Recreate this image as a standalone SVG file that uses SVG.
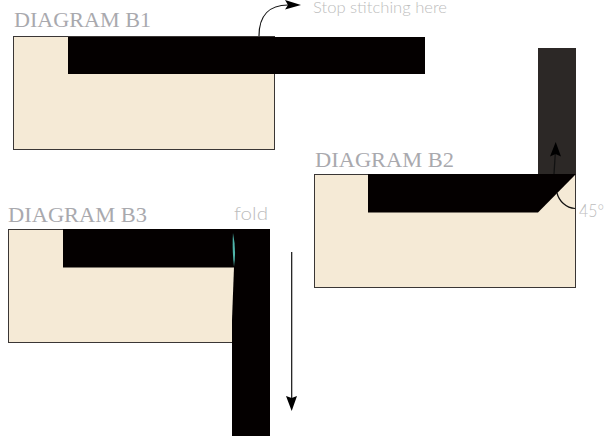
<svg xmlns="http://www.w3.org/2000/svg" width="614" height="436" viewBox="0 0 614 436">
<style>
.fabric{fill:#f5ead6;stroke:#3a3635;stroke-width:1}
.band{fill:#040000}
.title{font-family:"Liberation Serif",serif;font-size:22px;fill:#a9a9ae}
.note{font-family:"Lato","Liberation Sans",sans-serif;font-weight:300;fill:#bdbdbd}
.line{fill:none;stroke:#111;stroke-width:1.2}
.head{fill:#000}
</style>
<rect width="614" height="436" fill="#fff"/>
<g id="diagram-b1">
<rect class="fabric" x="13.500" y="36.500" width="261" height="113"/>
<rect class="band" x="68" y="37" width="357" height="37"/>
<text class="title" x="14" y="27" textLength="137" lengthAdjust="spacingAndGlyphs">DIAGRAM B1</text>
</g>
<g id="diagram-b2">
<rect x="538" y="48" width="38" height="127" fill="#2c2826"/>
<rect class="fabric" x="314.500" y="174.500" width="261" height="113"/>
<path class="band" d="M368 174H576L538 212.500H368Z"/>
<text class="title" x="315" y="167" textLength="139" lengthAdjust="spacingAndGlyphs">DIAGRAM B2</text>
<text class="note" x="579" y="217" font-size="17" textLength="25" lengthAdjust="spacingAndGlyphs">45°</text>
</g>
<g id="diagram-b3">
<rect class="fabric" x="8.500" y="229.500" width="261" height="113"/>
<rect class="band" x="63" y="229" width="207" height="38.500"/>
<path class="band" d="M234 267H270V436H232V320Z"/>
<path d="M233 233Q236.500 250 234 266.500Q232 250 233 233Z" fill="#4fb3a9"/>
<text class="title" x="8" y="222" textLength="139" lengthAdjust="spacingAndGlyphs">DIAGRAM B3</text>
<text class="note" x="234" y="220" font-size="18" textLength="34" lengthAdjust="spacingAndGlyphs">fold</text>
</g>
<g id="stop-note">
<text class="note" x="313" y="13" font-size="16" textLength="134" lengthAdjust="spacingAndGlyphs">Stop stitching here</text>
</g>
<g id="connectors">
<path class="line" d="M259 36C259 15 270 5 288 5"/>
<path class="head" d="M285 0L301 5L285 9.500L288 5Z"/>
<path class="line" d="M554 174L555.500 150"/>
<path class="head" d="M555.700 142L561 156.500L555.500 154L550 156.500Z"/>
<path class="line" d="M557 193C559 201 566 208 575 208.500"/>
<path class="line" d="M291.700 252V398"/>
<path class="head" d="M286 396L291.700 398L297 396L291.700 411Z"/>
</g>
</svg>
